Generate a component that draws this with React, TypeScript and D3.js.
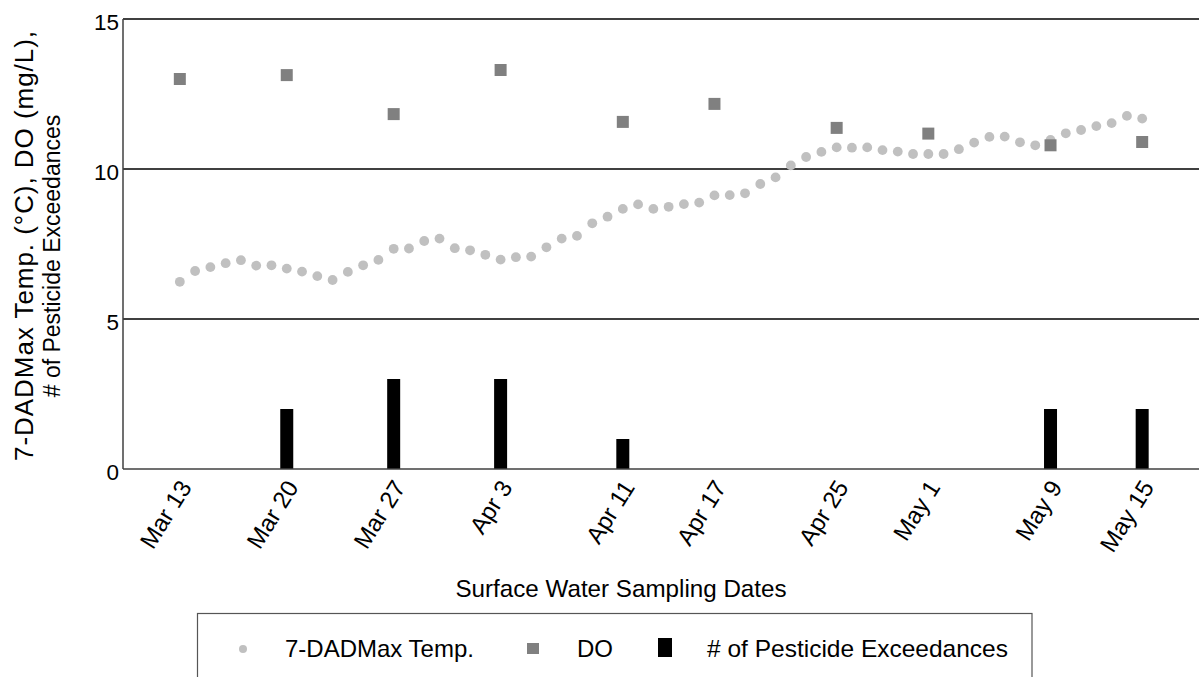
import React from "react";
import * as d3 from "d3";

// ---- data ----
const tempStart = "2019-03-13";
const tempValues = [
  6.24, 6.6, 6.73, 6.86, 6.96, 6.78, 6.79, 6.68, 6.58, 6.43, 6.3, 6.57, 6.79, 6.97, 7.34, 7.35,
  7.6, 7.68, 7.36, 7.29, 7.14, 6.98, 7.06, 7.08, 7.39, 7.68, 7.77, 8.19, 8.41, 8.67, 8.82, 8.67,
  8.74, 8.83, 8.88, 9.12, 9.13, 9.19, 9.5, 9.72, 10.12, 10.4, 10.57, 10.72, 10.71, 10.72, 10.63, 10.58,
  10.5, 10.5, 10.5, 10.66, 10.88, 11.07, 11.08, 10.89, 10.79, 10.97, 11.19, 11.3, 11.43, 11.53, 11.77, 11.68,
];
const sampleDates = [
  "2019-03-13", "2019-03-20", "2019-03-27", "2019-04-03", "2019-04-11",
  "2019-04-17", "2019-04-25", "2019-05-01", "2019-05-09", "2019-05-15",
];
const sampleLabels = ["Mar 13", "Mar 20", "Mar 27", "Apr 3", "Apr 11", "Apr 17", "Apr 25", "May 1", "May 9", "May 15"];
const doValues = [13.0, 13.13, 11.83, 13.3, 11.57, 12.17, 11.37, 11.18, 10.79, 10.9];
const pesticideValues = [0, 2, 3, 3, 1, 0, 0, 0, 2, 2];
const yTicks = [0, 5, 10, 15];

const FONT = "'Liberation Sans', Arial, sans-serif";

export default function App() {
  const left = 123, right = 1199, top = 19, bottom = 469;
  const parse = (s: string) => new Date(s + "T00:00:00Z");
  const day = 86400000;
  const first = parse(sampleDates[0]);
  const last = parse(sampleDates[sampleDates.length - 1]);
  const x = d3.scaleUtc()
    .domain([new Date(first.getTime() - 3.72 * day), new Date(last.getTime() + 3.72 * day)])
    .range([left, right]);
  const y = d3.scaleLinear().domain([0, 15]).range([bottom, top]);

  const tempDates = d3.utcDay.range(parse(tempStart), new Date(parse(tempStart).getTime() + tempValues.length * day));
  const tempData = tempValues.map((v, i) => ({ d: tempDates[i], v }));
  const samples = sampleDates.map((s, i) => ({ d: parse(s), label: sampleLabels[i], dO: doValues[i], p: pesticideValues[i] }));

  const barW = 13;
  const sq = 12;

  return (
    <svg width={1199} height={677} style={{ position: "absolute", left: 0, top: 0, background: "#fff" }} fontFamily={FONT}>
      <rect x={0} y={0} width={1199} height={677} fill="#fff" />
      {/* gridlines */}
      {yTicks.filter((t) => t > 0).map((t) => (
        <line key={t} x1={left} x2={right} y1={y(t)} y2={y(t)} stroke="#000" strokeWidth={1.3} />
      ))}
      {/* y tick labels */}
      {yTicks.map((t) => (
        <text key={t} x={119} y={y(t) + 10.8} textAnchor="end" fontSize={22.5} fill="#000">{t}</text>
      ))}
      {/* bars */}
      {samples.filter((s) => s.p > 0).map((s, i) => (
        <rect key={i} x={x(s.d) - barW / 2} y={y(s.p)} width={barW} height={y(0) - y(s.p)} fill="#000" />
      ))}
      {/* temperature dots */}
      {tempData.map((t, i) => (
        <circle key={i} cx={x(t.d)} cy={y(t.v)} r={4.9} fill="#c0c0c0" />
      ))}
      {/* DO squares */}
      {samples.map((s, i) => (
        <rect key={i} x={x(s.d) - sq / 2} y={y(s.dO) - sq / 2} width={sq} height={sq} fill="#808080" />
      ))}
      {/* axes */}
      <line x1={left} x2={left} y1={top} y2={bottom} stroke="#404040" strokeWidth={1.5} />
      <line x1={left} x2={right} y1={bottom} y2={bottom} stroke="#404040" strokeWidth={1.5} />
      {/* x labels */}
      {samples.map((s, i) => (
        <text key={i} transform={`translate(${x(s.d) - 2},${478}) rotate(-58)`} textAnchor="end" dy="0.72em" fontSize={24} fill="#000">
          {s.label}
        </text>
      ))}
      {/* axis titles */}
      <text x={621} y={597} textAnchor="middle" fontSize={24.2} fill="#000">Surface Water Sampling Dates</text>
      <g transform={`rotate(-90)`}>
        <text x={-246} y={33} textAnchor="middle" fontSize={26} textLength={430} lengthAdjust="spacing" fill="#000">7-DADMax Temp.  (°C), DO (mg/L),</text>
        <text x={-256} y={60} textAnchor="middle" fontSize={23} fill="#000"># of Pesticide Exceedances</text>
      </g>
      {/* legend */}
      <rect x={197.5} y={613.5} width={834.5} height={80} fill="#fff" stroke="#555" strokeWidth={1.2} />
      <circle cx={243} cy={649} r={4} fill="#c0c0c0" />
      <text x={285} y={657} fontSize={24} fill="#000">7-DADMax Temp.</text>
      <rect x={527} y={643} width={12} height={11} fill="#808080" />
      <text x={577} y={657} fontSize={24} fill="#000">DO</text>
      <rect x={658} y={638} width={14} height={19} fill="#000" />
      <text x={707} y={657} fontSize={24} textLength={301} lengthAdjust="spacingAndGlyphs" fill="#000"># of Pesticide Exceedances</text>
    </svg>
  );
}
